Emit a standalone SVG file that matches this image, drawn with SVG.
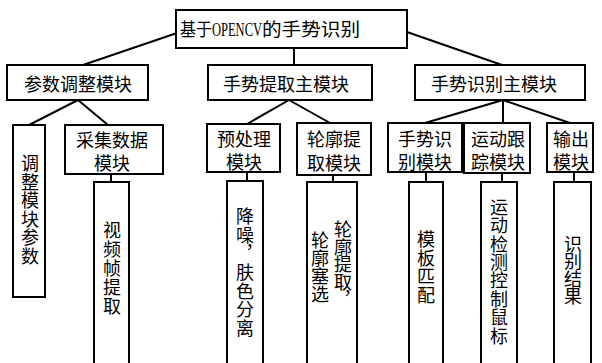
<svg xmlns="http://www.w3.org/2000/svg" width="602" height="363" viewBox="0 0 602 363">
<style>
.box{fill:#fff;stroke:#000;stroke-width:2}
.ln{stroke:#000;stroke-width:2;fill:none}
text{font-family:"Noto Sans CJK SC","Liberation Serif",sans-serif;font-size:18px;fill:#000}
.c{text-anchor:middle}
.v{writing-mode:vertical-rl;text-anchor:middle}
.t{font-family:"Liberation Serif","Noto Sans CJK SC",serif}
</style>
<rect width="602" height="363" fill="#fff"/>
<g id="connectors">
<line class="ln" x1="177" y1="33" x2="83" y2="65"/>
<line class="ln" x1="294" y1="48" x2="294" y2="65"/>
<line class="ln" x1="407" y1="32" x2="502" y2="65"/>
<line class="ln" x1="78" y1="100" x2="29" y2="125"/>
<line class="ln" x1="78" y1="100" x2="108" y2="125"/>
<line class="ln" x1="289" y1="100" x2="247" y2="124"/>
<line class="ln" x1="289" y1="100" x2="330" y2="123"/>
<line class="ln" x1="503" y1="100" x2="425" y2="123"/>
<line class="ln" x1="503" y1="100" x2="503" y2="123"/>
<line class="ln" x1="503" y1="100" x2="570" y2="123"/>
<line class="ln" x1="111" y1="174" x2="111" y2="182"/>
<line class="ln" x1="247" y1="172" x2="247" y2="182"/>
<line class="ln" x1="333" y1="175" x2="333" y2="182"/>
<line class="ln" x1="426" y1="172" x2="426" y2="182"/>
<line class="ln" x1="502" y1="173" x2="502" y2="182"/>
<line class="ln" x1="574" y1="172" x2="574" y2="182"/>
</g>
<g id="root">
<rect class="box" x="176" y="10" width="231" height="38"/>
<text class="t" y="36"><tspan x="180" textLength="32" lengthAdjust="spacingAndGlyphs">基于</tspan><tspan x="212" textLength="50" lengthAdjust="spacingAndGlyphs">OPENCV</tspan><tspan x="262" textLength="98" lengthAdjust="spacingAndGlyphs">的手势识别</tspan></text>
</g>
<g id="n-param">
<rect class="box" x="7" y="65" width="141" height="35"/>
<text class="c" x="78" y="91">参数调整模块</text>
</g>
<g id="n-extract">
<rect class="box" x="208" y="65" width="164" height="35"/>
<text class="c" x="286" y="91">手势提取主模块</text>
</g>
<g id="n-recog">
<rect class="box" x="415" y="65" width="170" height="35"/>
<text class="c" x="494" y="91">手势识别主模块</text>
</g>
<g id="n-adjust">
<rect class="box" x="13" y="125" width="32" height="172"/>
<text class="v" x="30" y="210" letter-spacing="0.5">调整模块参数</text>
</g>
<g id="n-collect">
<rect class="box" x="65" y="125" width="98" height="49"/>
<text class="c"><tspan x="112" y="147">采集数据</tspan><tspan x="112" y="170">模块</tspan></text>
</g>
<g id="n-frame">
<rect class="box" x="94" y="182" width="35" height="190"/>
<text class="v" x="112" y="269" letter-spacing="1">视频帧提取</text>
</g>
<g id="n-pre">
<rect class="box" x="207" y="124" width="73" height="48"/>
<text class="c"><tspan x="244" y="146">预处理</tspan><tspan x="244" y="169">模块</tspan></text>
</g>
<g id="n-denoise">
<rect class="box" x="227" y="181" width="36" height="190"/>
<text class="v" x="245" y="272.5" letter-spacing="0.7">降噪，肤色分离</text>
</g>
<g id="n-contour">
<rect class="box" x="297" y="123" width="74" height="52"/>
<text class="c"><tspan x="334" y="146">轮廓提</tspan><tspan x="334" y="170">取模块</tspan></text>
</g>
<g id="n-contour2">
<rect class="box" x="307" y="182" width="50" height="190"/>
<text class="v" x="343" y="264" letter-spacing="-0.5">轮廓提取，</text>
<text class="v" x="320" y="267.5">轮廓塞选</text>
</g>
<g id="n-gesture">
<rect class="box" x="388" y="123" width="74" height="49"/>
<text class="c"><tspan x="425" y="146">手势识</tspan><tspan x="425" y="169">别模块</tspan></text>
</g>
<g id="n-template">
<rect class="box" x="409" y="182" width="34" height="190"/>
<text class="v" x="426" y="267.5" letter-spacing="0.75">模板匹配</text>
</g>
<g id="n-track">
<rect class="box" x="464" y="123" width="66" height="50"/>
<text class="c"><tspan x="498" y="146">运动跟</tspan><tspan x="498" y="169">踪模块</tspan></text>
</g>
<g id="n-motion">
<rect class="box" x="481" y="182" width="36" height="190"/>
<text class="v" x="499" y="271.5" letter-spacing="0.4">运动检测控制鼠标</text>
</g>
<g id="n-output">
<rect class="box" x="547" y="123" width="46" height="49"/>
<text class="c"><tspan x="571" y="146">输出</tspan><tspan x="571" y="169">模块</tspan></text>
</g>
<g id="n-result">
<rect class="box" x="554" y="182" width="37" height="190"/>
<text class="v" x="573" y="270" letter-spacing="-0.5">识别结果</text>
</g>
</svg>
